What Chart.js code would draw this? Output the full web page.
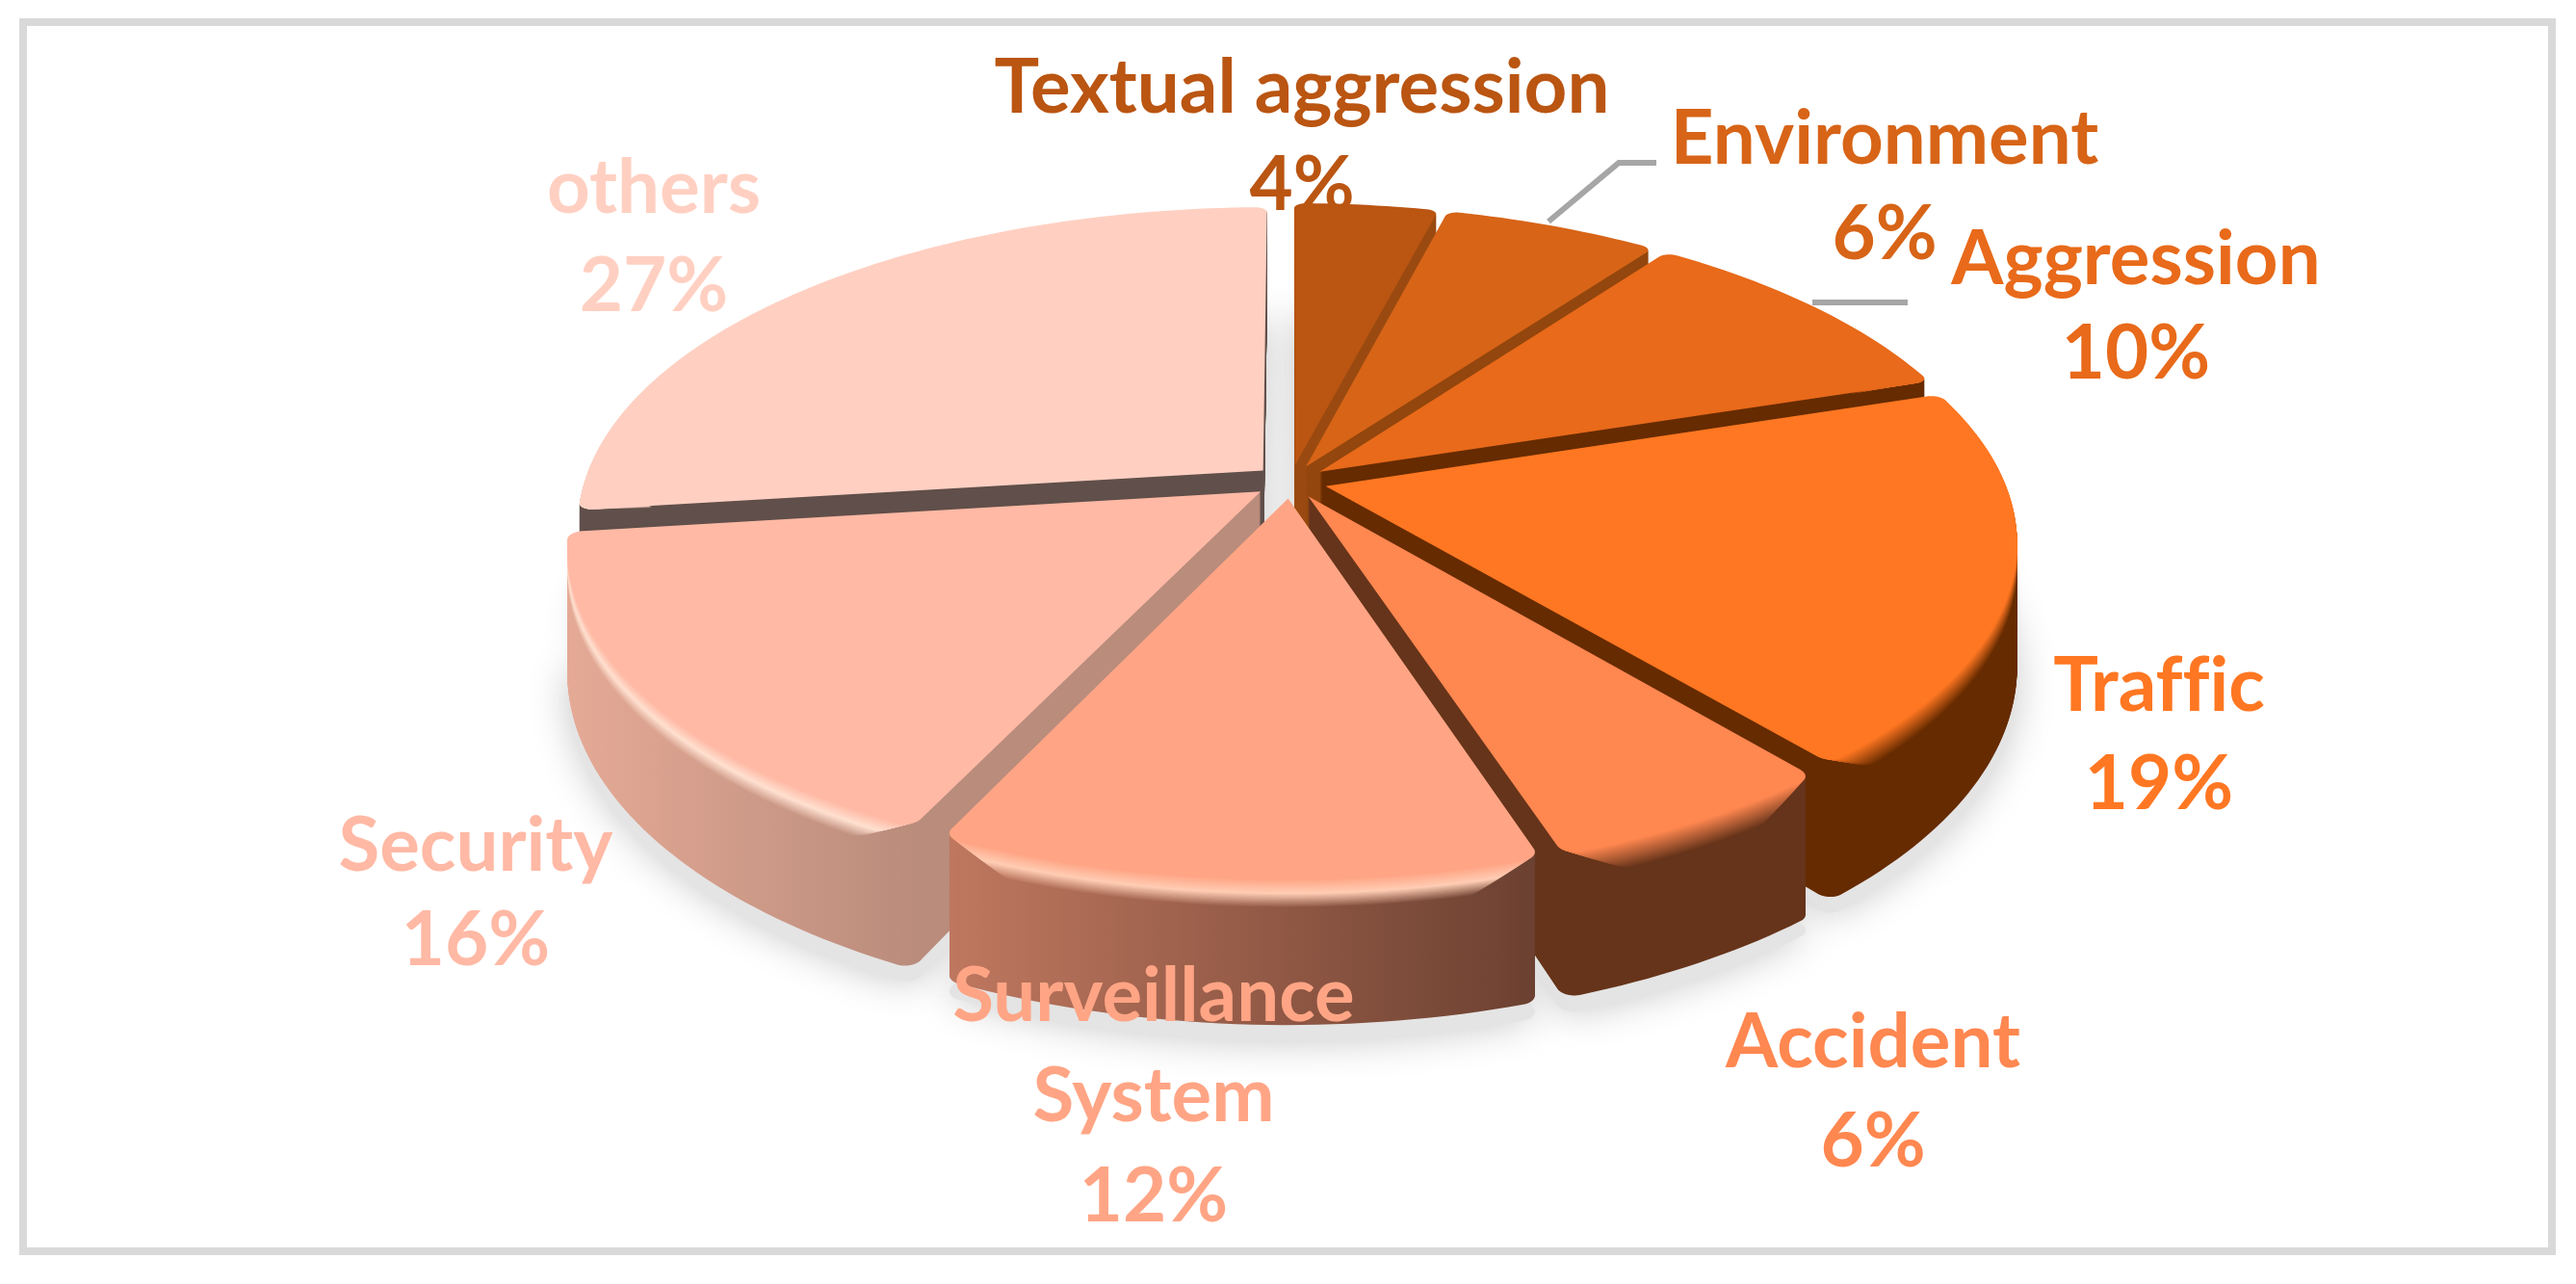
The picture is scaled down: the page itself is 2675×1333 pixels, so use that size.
<html lang="en">
<head>
    <meta charset="UTF-8">
    <title>Pie chart</title>
    <script src="https://cdn.jsdelivr.net/npm/chart.js"></script>
    <style>
        html, body { margin: 0; padding: 0; background: #fff; }
        canvas { display: block; }
    </style>
</head>
<body>
    <canvas id="pieChart" width="2675" height="1333"></canvas>

    <script>
        // Chart data, clockwise from the top
        const categories = ['Textual aggression', 'Environment', 'Aggression', 'Traffic', 'Accident', 'Surveillance System', 'Security', 'others'];
        const shares = [4, 6, 10, 19, 6, 12, 16, 27];
        const labelLines = [['Textual aggression'], ['Environment'], ['Aggression'], ['Traffic'], ['Accident'], ['Surveillance', 'System'], ['Security'], ['others']];

        // Slice colours
        const topColors = ['#BA5512', '#D76417', '#E86A1A', '#FF7722', '#FF8750', '#FFA585', '#FFB9A5', '#FFD0C2'];
        const wallFrom = ['#9A4A10', '#93460D', '#662B00', '#662B00', '#66341A', '#C07860', '#E5AA96', '#604F4A'];
        const wallTo = ['#9A4A10', '#93460D', '#662B00', '#662B00', '#66341A', '#6B4030', '#BA8C7C', '#604F4A'];
        const rimGlow = [null, null, null, null, null, '#FFCDB4', '#FFE0D0', null];

        // Back slices first so the front ones cover them
        const drawOrder = [7, 0, 1, 2, 6, 3, 4, 5];

        // Camera for the tilted disc
        const view = { cx: 1340, cy: 500, radius: 705, tilt: 0.458, perspective: 0.168, depth: 124, explode: 38, bevel: 24, bevelInset: 0.075 };

        // Label centres
        const labelX = [1352, 1957, 2218, 2242, 1945, 1198, 494, 679];
        const labelY = [92, 145, 270, 713, 1083, 1035, 879, 196];
        const lineGap = [101, 99, 98, 102, 103, 104, 98, 102];
        const fontPx = 78;

        const ctx = document.getElementById('pieChart').getContext('2d');

        function mix(a, b, t) {
            const pa = parseInt(a.slice(1), 16), pb = parseInt(b.slice(1), 16);
            const ch = (s) => Math.round(((pa >> s) & 255) * (1 - t) + ((pb >> s) & 255) * t);
            return `rgb(${ch(16)},${ch(8)},${ch(0)})`;
        }

        // Maps a point of the flat pie onto the screen
        function projector(arc, depth) {
            const scale = view.radius / arc.outerRadius;
            const mid = (arc.startAngle + arc.endAngle) / 2;
            const ox = Math.cos(mid) * view.explode, oy = Math.sin(mid) * view.explode;
            return (x, y) => {
                const wx = (x - arc.x) * scale + ox;
                const wy = (y - arc.y) * scale + oy;
                const w = 1 - view.perspective * wy / view.radius;
                return [view.cx + wx / w, view.cy + (view.tilt * wy + depth) / w];
            };
        }

        // Canvas stand-in: the arc element draws through it and its path gets projected
        function projectedContext(c, arc, depth) {
            const project = projector(arc, depth);
            const line = (x, y) => { const p = project(x, y); c.lineTo(p[0], p[1]); };
            const path = {
                save() {}, restore() {}, translate() {},
                moveTo: line, lineTo: line,
                arc(x, y, r, a0, a1, ccw) {
                    let sweep = a1 - a0;
                    if (ccw && sweep > 0) sweep -= Math.PI * 2;
                    if (!ccw && sweep < 0) sweep += Math.PI * 2;
                    const n = Math.max(1, Math.ceil(Math.abs(sweep) / 0.02));
                    for (let i = 0; i <= n; i++) {
                        const a = a0 + sweep * i / n;
                        line(x + r * Math.cos(a), y + r * Math.sin(a));
                    }
                }
            };
            return new Proxy(c, {
                get: (t, k) => k in path ? path[k] : (typeof t[k] === 'function' ? t[k].bind(t) : t[k]),
                set: (t, k, v) => { t[k] = v; return true; }
            });
        }

        function drawSlice(c, arc, depth, paint, innerRadius, inset) {
            const ghost = Object.create(arc);
            ghost.innerRadius = innerRadius || 0;
            ghost.startAngle = arc.startAngle + (inset || 0);
            ghost.endAngle = arc.endAngle - (inset || 0);
            ghost.options = {
                backgroundColor: paint, borderColor: 'transparent', borderWidth: 0, borderAlign: 'center',
                borderRadius: { outerStart: 14, outerEnd: 14, innerStart: 0, innerEnd: 0 },
                offset: 0, spacing: 0, circular: true
            };
            arc.draw.call(ghost, projectedContext(c, arc, depth));
        }

        // Wall shading runs left to right across the slice
        function wallPaint(c, arc, i, toColor, t) {
            const project = projector(arc, 0);
            let minX = Infinity, maxX = -Infinity;
            for (let n = 0; n <= 24; n++) {
                const a = arc.startAngle + (arc.endAngle - arc.startAngle) * n / 24;
                const x = project(arc.x + arc.outerRadius * Math.cos(a), arc.y + arc.outerRadius * Math.sin(a))[0];
                minX = Math.min(minX, x);
                maxX = Math.max(maxX, x);
            }
            const g = c.createLinearGradient(minX, 0, maxX, 0);
            g.addColorStop(0, mix(wallFrom[i], toColor, t));
            g.addColorStop(1, mix(wallTo[i], toColor, t));
            return g;
        }

        function drawLabel(c, i) {
            c.font = `bold ${fontPx}px Lato`;
            c.textRendering = 'optimizeSpeed'; // no fi ligature in Traffic
            c.textAlign = 'center';
            c.textBaseline = 'middle';
            c.fillStyle = topColors[i];
            const rows = labelLines[i].concat(shares[i] + '%');
            rows.forEach((row, r) => c.fillText(row, labelX[i], labelY[i] + r * lineGap[i]));
        }

        const pie3d = {
            id: 'pie3d',
            beforeDatasetsDraw(chart) {
                const c = chart.ctx;
                const arcs = chart.getDatasetMeta(0).data;

                drawLabel(c, 0); // the pie covers the foot of this one

                // floor shadow
                c.save();
                c.shadowColor = '#c8c8c8';
                c.shadowBlur = 40;
                arcs.forEach((arc) => drawSlice(c, arc, view.depth + 14, '#E4E4E4'));
                c.restore();

                drawOrder.forEach((i) => {
                    const arc = arcs[i];
                    for (let d = view.depth; d > 0; d--) {
                        drawSlice(c, arc, d, wallPaint(c, arc, i, topColors[i], 0));
                    }
                    // soft rim between wall and top, tapering off towards the slice corners
                    const ring = arc.outerRadius * 0.9;
                    for (let d = view.bevel; d > 0; d--) {
                        const t = d / view.bevel;
                        let paint;
                        if (rimGlow[i] && t < 0.5) paint = mix(topColors[i], rimGlow[i], t / 0.5);
                        else if (rimGlow[i]) paint = wallPaint(c, arc, i, rimGlow[i], 1 - (t - 0.5) / 0.5);
                        else paint = wallPaint(c, arc, i, topColors[i], 1 - t);
                        drawSlice(c, arc, d, paint, ring, view.bevelInset * t);
                    }
                    drawSlice(c, arc, 0, topColors[i]);
                });
            },
            beforeDatasetDraw() {
                return false; // slices are already drawn above
            },
            afterDatasetsDraw(chart) {
                const c = chart.ctx;
                for (let i = 1; i < categories.length; i++) drawLabel(c, i);

                // leader lines
                c.strokeStyle = '#A6A6A6';
                c.lineWidth = 6;
                c.beginPath();
                c.moveTo(1608, 230);
                c.lineTo(1681, 169);
                c.lineTo(1720, 169);
                c.moveTo(1882, 314);
                c.lineTo(1981, 314);
                c.stroke();

                // frame
                c.strokeStyle = '#D9D9D9';
                c.lineWidth = 8;
                c.strokeRect(24, 23, 2626, 1276);
            }
        };

        new Chart(ctx, {
            type: 'pie',
            data: {
                labels: categories,
                datasets: [{ data: shares, backgroundColor: topColors, borderWidth: 0 }]
            },
            options: {
                responsive: false,
                animation: false,
                layout: { padding: 0 },
                plugins: { legend: { display: false }, tooltip: { enabled: false } }
            },
            plugins: [pie3d]
        });
    </script>
</body>
</html>
